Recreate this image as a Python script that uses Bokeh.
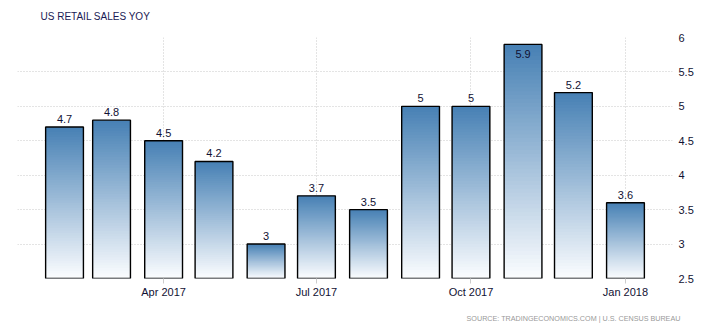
from datetime import datetime
from bokeh.plotting import figure
from bokeh.models import Range1d, FixedTicker, Title, ColumnDataSource
from bokeh.core.properties import value
from bokeh.embed import file_html
from bokeh.resources import INLINE

# ---- data ----
months = ["2017-02-01", "2017-03-01", "2017-04-01", "2017-05-01", "2017-06-01", "2017-07-01",
          "2017-08-01", "2017-09-01", "2017-10-01", "2017-11-01", "2017-12-01", "2018-01-01"]
values = [4.7, 4.8, 4.5, 4.2, 3.0, 3.7, 3.5, 5.0, 5.0, 5.9, 5.2, 3.6]
tick_dates = ["2017-04-01", "2017-07-01", "2017-10-01", "2018-01-01"]
tick_labels = ["Apr 2017", "Jul 2017", "Oct 2017", "Jan 2018"]
y_ticks = [2.5, 3, 3.5, 4, 4.5, 5, 5.5, 6]
title_text = "US RETAIL SALES YOY"
source_text = "SOURCE: TRADINGECONOMICS.COM | U.S. CENSUS BUREAU"

DAY = 86400000.0
def ms(s):
    return (datetime.strptime(s, "%Y-%m-%d") - datetime(1970, 1, 1)).total_seconds() * 1000.0

xs = [ms(m) for m in months]
base = 2.5
bar_w = 22.5 * DAY

FONT = "Liberation Sans"

p = figure(width=711, height=333, output_backend="svg", toolbar_location=None,
           x_axis_type="datetime", y_axis_location="right",
           x_range=Range1d(ms("2017-01-04"), ms("2018-01-29")),
           y_range=Range1d(2.5, 6.0),
           min_border_left=17, min_border_right=39, min_border_top=37, min_border_bottom=54)
p.outline_line_color = None
p.background_fill_color = "white"
p.border_fill_color = "white"

# title (trailing empty line lifts the text away from the plot frame)
p.title.text = title_text + "\n"
p.title.align = "left"
p.title.offset = 23
p.title.standoff = 10
p.title.text_font = FONT
p.title.text_font_size = "10px"
p.title.text_font_style = "normal"
p.title.text_color = "#1a1a55"

# gradient bars built from overlapping strips (painted top-down)
N = 60
top_c = (70, 128, 180)
bot_c = (252, 253, 255)
l, r, b, t, cols = [], [], [], [], []
for x, v in zip(xs, values):
    h = (v - base) / N
    for i in range(N - 1, -1, -1):
        f = (i + 0.5) / N  # 0 bottom, 1 top
        c = tuple(int(round(bot_c[k] + (top_c[k] - bot_c[k]) * f)) for k in range(3))
        l.append(x - bar_w / 2); r.append(x + bar_w / 2)
        b.append(base); t.append(base + (i + 1) * h)
        cols.append("#%02x%02x%02x" % c)
p.quad(left=l, right=r, bottom=b, top=t, fill_color=cols, line_color=None)
p.quad(left=[x - bar_w / 2 for x in xs], right=[x + bar_w / 2 for x in xs],
       bottom=[base] * len(xs), top=values, fill_color=None, line_color="black", line_width=1.4)

# value labels
lab = ColumnDataSource(dict(
    x=xs, y=values,
    txt=[("%g" % v) for v in values],
    base=["top" if v > 5.6 else "bottom" for v in values],
    off=[6 if v > 5.6 else -4 for v in values]))
p.text(x="x", y="y", text="txt", source=lab, text_align="center", text_baseline="base",
       y_offset="off", text_font=value(FONT), text_font_size="11px", text_color="#111133")

# axes
p.xaxis.ticker = FixedTicker(ticks=[ms(d) for d in tick_dates])
p.xaxis.major_label_overrides = {ms(d): s for d, s in zip(tick_dates, tick_labels)}
p.xaxis.axis_line_color = None
p.xaxis.major_tick_in = 0
p.xaxis.major_tick_out = 5
p.xaxis.major_tick_line_color = "#cccccc"
p.xaxis.minor_tick_line_color = None
p.xaxis.major_label_standoff = 2
p.xaxis.major_label_text_font = FONT
p.xaxis.major_label_text_font_size = "11px"
p.xaxis.major_label_text_color = "#111133"

p.yaxis.ticker = FixedTicker(ticks=y_ticks)
p.yaxis.axis_line_color = None
p.yaxis.major_tick_line_color = None
p.yaxis.minor_tick_line_color = None
p.yaxis.major_label_standoff = 0
p.yaxis.major_label_text_font = FONT
p.yaxis.major_label_text_font_size = "11px"
p.yaxis.major_label_text_color = "#111133"

for g in (p.xgrid, p.ygrid):
    g.grid_line_color = "#c8c8c8"
    g.grid_line_dash = "1 2"
    g.grid_line_width = 1

p.add_layout(Title(text=source_text, align="right", offset=-8, standoff=22, text_font=FONT,
                   text_font_size="7.2px", text_font_style="normal", text_color="#999999"),
             "below")

open("out.html", "w").write(file_html(p, INLINE))
